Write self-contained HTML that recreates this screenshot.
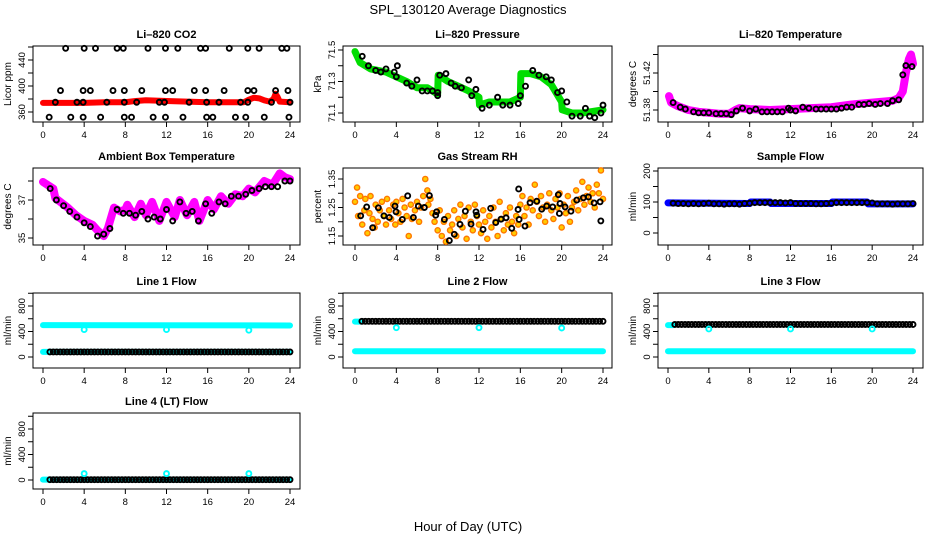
<!DOCTYPE html>
<html><head><meta charset="utf-8"><style>
body{margin:0;background:#fff}
svg{display:block;font-family:"Liberation Sans",sans-serif}
</style></head><body>
<svg id="c" width="936" height="540" viewBox="0 0 936 540">
<text x="468" y="14" text-anchor="middle" font-size="13">SPL_130120  Average Diagnostics</text>
<text x="468" y="531" text-anchor="middle" font-size="13">Hour of Day (UTC)</text>
</svg>
<script>
// ---- data ----
const xTicks=[0,4,8,12,16,20,24];
const co2BandHours=[0,2,4,6,8,9,10,12,14,16,18,19.5,20,20.5,21,21.5,22,22.4,22.6,22.8,23,24];
const co2BandVals=[374,374,374,375,375,377,378,377,376,375,375,375,379,382,381,378,376,380,388,383,376,375];
const co2Hours=[2.2,4.0,5.1,7.2,7.8,10.2,11.9,13.1,15.3,15.8,18.1,19.9,21.0,23.2,23.7,1.7,3.9,4.6,6.8,7.9,9.6,11.9,12.6,14.7,15.8,17.6,19.9,20.5,22.6,23.8,0.6,2.7,3.9,5.6,7.9,8.6,10.7,11.9,13.6,15.9,16.5,18.7,19.7,21.5,23.9,1.2,3.3,3.9,6.2,7.9,9.1,11.3,11.8,14.2,15.9,17.1,19.2,19.9,22.2,24.0];
const co2Vals=[458,458,458,458,458,458,458,458,458,458,458,458,458,458,458,393,393,393,393,393,393,393,393,393,393,393,393,393,393,393,352,352,352,352,352,352,352,352,352,352,352,352,352,352,352,375,375,375,375,375,375,375,375,375,375,375,375,375,375,375];
const presBandHours=[0,0.5,1.5,3,4,5,6,7,8,8.05,9,10,11,12,12.05,13,14,15,16,16.05,17,18,19,20,20.05,21,22,23,24];
const presBandVals=[71.49,71.42,71.38,71.36,71.33,71.3,71.26,71.26,71.22,71.34,71.3,71.27,71.24,71.2,71.15,71.17,71.17,71.17,71.2,71.35,71.35,71.33,71.28,71.17,71.12,71.1,71.1,71.11,71.12];
const presHours=[0.7,1.3,2,2.5,3,3.8,4,4.1,5,5.5,6,6.5,7,7.5,8,8,8.2,8.8,9.3,9.7,10.3,11,11.3,11.7,12.3,13,13.8,14.3,15,15.8,16,16.5,17.2,17.8,18.5,19,19.6,20,20.5,21,21.8,22.3,22.7,23.2,23.8,24];
const presVals=[71.46,71.4,71.37,71.36,71.38,71.36,71.33,71.4,71.29,71.27,71.31,71.24,71.24,71.24,71.21,71.23,71.34,71.35,71.29,71.27,71.26,71.31,71.21,71.25,71.13,71.15,71.2,71.15,71.15,71.16,71.21,71.27,71.37,71.34,71.33,71.31,71.23,71.24,71.17,71.08,71.08,71.13,71.08,71.07,71.1,71.15];
const tempBandHours=[0.1,0.3,1,2,3,4,5,6,6.6,7,8,10,12,14,16,18,20,22,22.6,23,23.3,23.6,23.8,24];
const tempBandVals=[51.395,51.388,51.384,51.38,51.378,51.377,51.376,51.376,51.38,51.382,51.381,51.38,51.381,51.382,51.383,51.386,51.388,51.39,51.393,51.4,51.42,51.435,51.44,51.43];
const tempHours=[0.5,1.2,1.7,2.5,3,3.5,4,4.7,5.2,5.7,6.2,6.7,7.3,8,8.6,9.2,9.7,10.2,10.7,11.2,11.8,12,12.5,13.2,13.8,14.5,15,15.5,16,16.5,17,17.5,18,18.7,19.2,19.7,20.3,20.8,21.5,22,22.6,23,23.3,23.9];
const tempVals=[51.388,51.383,51.381,51.378,51.377,51.377,51.377,51.376,51.376,51.376,51.375,51.379,51.382,51.379,51.381,51.378,51.378,51.378,51.378,51.378,51.382,51.38,51.379,51.383,51.382,51.381,51.381,51.381,51.381,51.381,51.382,51.383,51.383,51.386,51.386,51.387,51.386,51.387,51.387,51.39,51.391,51.418,51.428,51.427];
const ambBandHours=[0,1,1.2,2.4,3.2,4,4.8,5.3,5.9,6.3,6.9,7.5,8,8.2,8.9,9.5,10,10.6,11.3,12,12.8,13.3,14,14.7,15.2,16,16.6,17.3,18,18.7,19.4,20,20.6,21.5,22.3,23,23.5,24];
const ambBandVals=[37.95,37.6,37.1,36.6,36.2,35.9,35.7,35.4,35.1,35.5,36.6,36.4,36.5,36.75,36.1,36.8,36.2,36.9,35.9,36.9,36.1,37.0,36.2,36.9,35.9,37.0,36.5,37.2,36.8,37.3,37.2,37.6,37.4,38.0,37.8,38.4,38.2,38.1];
const ambHours=[0.7,1.3,2,2.6,3.3,4,4.6,5.3,5.9,6.5,7.2,7.8,8.4,9.0,9.6,10.2,10.8,11.4,12,12.6,13.3,13.9,14.5,15.1,15.8,16.4,17.1,17.7,18.3,19,19.7,20.3,21,21.6,22.2,22.8,23.5,24];
const ambVals=[37.6,37.0,36.7,36.4,36.1,35.8,35.6,35.1,35.2,35.5,36.5,36.3,36.3,36.2,36.4,36.0,36.1,36.0,36.5,35.9,36.9,36.3,36.4,35.9,36.8,36.3,36.9,36.8,37.2,37.2,37.3,37.5,37.6,37.7,37.7,37.7,38.0,38.0];
const rhOrangeHours=[0,0.2,0.3,0.5,0.7,0.9,1,1.2,1.4,1.5,1.7,1.9,2,2.2,2.4,2.6,2.8,3,3.1,3.3,3.5,3.7,3.9,4,4.2,4.4,4.6,4.8,5,5.2,5.4,5.5,5.8,6,6.2,6.4,6.6,6.8,7,7.1,7.3,7.5,7.7,8,8.2,8.4,8.6,8.8,9,9.2,9.4,9.6,9.8,10,10.2,10.4,10.6,10.8,11,11.2,11.4,11.6,11.8,12,12.2,12.4,12.6,12.8,13,13.2,13.4,13.6,13.8,14,14.2,14.4,14.6,14.8,15,15.2,15.4,15.6,15.8,16,16.2,16.4,16.6,16.8,17,17.2,17.4,17.6,17.8,18,18.2,18.4,18.6,18.8,19,19.2,19.4,19.6,19.8,20,20.2,20.4,20.6,20.8,21,21.2,21.4,21.6,21.8,22,22.2,22.4,22.6,22.8,23,23.2,23.4,23.6,23.8,24];
const rhOrangeVals=[1.27,1.32,1.22,1.29,1.19,1.24,1.28,1.16,1.23,1.29,1.21,1.18,1.26,1.2,1.24,1.27,1.22,1.19,1.28,1.24,1.21,1.26,1.19,1.27,1.23,1.2,1.28,1.25,1.22,1.15,1.26,1.21,1.24,1.27,1.2,1.25,1.29,1.35,1.31,1.26,1.28,1.23,1.2,1.17,1.24,1.15,1.2,1.13,1.22,1.17,1.19,1.24,1.15,1.21,1.26,1.18,1.22,1.14,1.25,1.2,1.17,1.26,1.22,1.19,1.16,1.24,1.2,1.14,1.22,1.18,1.25,1.2,1.15,1.27,1.21,1.17,1.23,1.19,1.25,1.2,1.16,1.22,1.19,1.26,1.29,1.22,1.25,1.19,1.28,1.24,1.33,1.27,1.22,1.29,1.25,1.2,1.26,1.3,1.24,1.21,1.28,1.25,1.3,1.18,1.26,1.23,1.29,1.2,1.25,1.27,1.31,1.24,1.28,1.34,1.26,1.29,1.32,1.27,1.3,1.25,1.33,1.3,1.38,1.28,1.32,1.26];
const rhHours=[0.55,1.13,1.71,2.26,2.8,3.32,3.87,3.97,4.58,5.1,5.65,6.13,6.71,7.2,7.81,7.9,8.65,9.13,9.61,10.16,10.68,11.23,11.71,11.78,12.39,13.13,13.62,14.13,14.62,15.17,15.78,15.84,15.88,16.45,16.94,17.59,18.07,18.55,19.13,19.68,19.78,19.84,20.33,20.9,21.46,22.1,22.59,23.14,23.72,23.79];
const rhVals=[1.221,1.252,1.179,1.249,1.221,1.215,1.255,1.235,1.208,1.291,1.215,1.255,1.25,1.292,1.223,1.235,1.208,1.134,1.156,1.191,1.237,1.192,1.235,1.223,1.173,1.247,1.197,1.209,1.214,1.177,1.243,1.315,1.208,1.185,1.267,1.272,1.244,1.255,1.252,1.295,1.229,1.264,1.252,1.237,1.276,1.284,1.287,1.266,1.27,1.203];
const sampleBandHours=[0,8,8.1,10,10.1,16,16.1,19.5,19.6,24];
const sampleBandVals=[97,95,100,100,95,95,100,100,94,94];
const flowHours=[0.5,1,1.5,2,2.5,3,3.5,4,4.5,5,5.5,6,6.5,7,7.5,8,8.5,9,9.5,10,10.5,11,11.5,12,12.5,13,13.5,14,14.5,15,15.5,16,16.5,17,17.5,18,18.5,19,19.5,20,20.5,21,21.5,22,22.5,23,23.5,24];
const flowHoursDense=[0.67,1,1.33,1.67,2,2.33,2.67,3,3.33,3.67,4,4.33,4.67,5,5.33,5.67,6,6.33,6.67,7,7.33,7.67,8,8.33,8.67,9,9.33,9.67,10,10.33,10.67,11,11.33,11.67,12,12.33,12.67,13,13.33,13.67,14,14.33,14.67,15,15.33,15.67,16,16.33,16.67,17,17.33,17.67,18,18.33,18.67,19,19.33,19.67,20,20.33,20.67,21,21.33,21.67,22,22.33,22.67,23,23.33,23.67,24];
const sampleBlack=[96,95,95,94,95,94,95,96,94,94,93,94,94,93,95,96,98,98,98,98,98,98,97,98,95,95,95,95,94,94,95,96,98,98,98,98,98,98,98,97,94,94,94,93,94,94,94,95];
const bandEnds=[0,24];
const line1High=[500,495], line1Low=[80,80], line1Black=80;
const line2High=[555,555], line2Low=[90,90], line2Black=560;
const line3High=[500,500], line3Low=[90,90], line3Black=510;
const line4Low=[5,5], line4Black=5;
const dipHours=[4,12,20];
const line1Dips=[430,430,420], line2Dips=[460,460,455], line3Dips=[440,440,440], line4Dips=[100,100,100];

// ---- layout ----
const svg=document.getElementById('c');
const NS='http://www.w3.org/2000/svg';
const cols=[{L:33,R:300,x0:43,x24:290},{L:343,R:612,x0:355,x24:603},{L:658,R:923,x0:668,x24:913}];
const rows=[{T:46,B:122},{T:168,B:245},{T:293,B:368},{T:413,B:489}];
function mk(tag,attrs,parent){const e=document.createElementNS(NS,tag);for(const k in attrs)e.setAttribute(k,attrs[k]);(parent||svg).appendChild(e);return e;}

function panel(name,r,c,title,ylab,v1,p1,v2,p2,yTicks,yLabels){
  const R=rows[r],C=cols[c];
  const g=mk('g',{});
  
  
  const xs=h=>C.x0+(C.x24-C.x0)*h/24;
  const ys=v=>p1+(v-v1)*(p2-p1)/(v2-v1);
  const box=mk('rect',{x:C.L,y:R.T,width:C.R-C.L,height:R.B-R.T,fill:'none',stroke:'#000','stroke-width':1},g);
  
  
  const t=mk('text',{x:(C.L+C.R)/2,y:R.T-8,'text-anchor':'middle','font-size':11,'font-weight':'bold'},g);
  t.textContent=title;
  
  
  const yl=mk('text',{transform:`translate(${C.L-22},${(R.T+R.B)/2}) rotate(-90)`,'text-anchor':'middle','font-size':10},g);
  yl.textContent=ylab;
  
  
  const ax=mk('g',{stroke:'#000','stroke-width':1},g);
  
  
  xTicks.forEach(h=>{
    mk('line',{x1:xs(h),x2:xs(h),y1:R.B,y2:R.B+5},ax);
    const tl=mk('text',{x:xs(h),y:R.B+16,'text-anchor':'middle','font-size':9.5,stroke:'none'},ax);
    tl.textContent=h;
  });
  const ay=mk('g',{stroke:'#000','stroke-width':1},g);
  
  
  yTicks.forEach(v=>{mk('line',{x1:C.L-5,x2:C.L,y1:ys(v),y2:ys(v)},ay);});
  yLabels.forEach(v=>{
    const tl=mk('text',{transform:`translate(${C.L-8},${ys(v)}) rotate(-90)`,'text-anchor':'middle','font-size':9.5,stroke:'none'},ay);
    tl.textContent=v;
  });
  const clip=mk('g',{},g);
  return {g:clip,xs,ys};
}
function band(P,name,hs,vs,color,w){
  const pts=hs.map((h,i)=>P.xs(h)+','+P.ys(vs[i])).join(' ');
  const pl=mk('polyline',{points:pts,fill:'none',stroke:color,'stroke-width':w||7,'stroke-linejoin':'round','stroke-linecap':'round'},P.g);
  
  
}
function dots(P,name,hs,vs,stroke,fill,r,sw){
  const g=mk('g',{},P.g);
  
  
  const n=Math.min(hs.length,vs.length);
  for(let i=0;i<n;i++){
    mk('circle',{cx:P.xs(hs[i]),cy:P.ys(vs[i]),r:r||2.5,fill:fill||'none',stroke:stroke,'stroke-width':sw||1.9},g);
  }
}
function dotsConst(P,name,hs,v,stroke,r,sw){
  const g=mk('g',{},P.g);
  
  
  hs.forEach(h=>mk('circle',{cx:P.xs(h),cy:P.ys(v),r:r||2.5,fill:'none',stroke:stroke,'stroke-width':sw||1.9},g));
}

// panel 1
let P=panel('co2',0,0,'Li–820 CO2','Licor ppm',360,112,440,60,[360,380,400,420,440,460],[360,400,440]);
band(P,'co2-red-band',co2BandHours,co2BandVals,'#ff0000',6);
dots(P,'co2-black-points',co2Hours,co2Vals,'#000');
// panel 2
P=panel('pressure',0,1,'Li–820 Pressure','kPa',71.1,113,71.5,50,[71.1,71.2,71.3,71.4,71.5],[71.1,71.3,71.5]);
band(P,'pressure-green-band',presBandHours,presBandVals,'#00dd00',7);
dots(P,'pressure-black-points',presHours,presVals,'#000');
// panel 3
P=panel('temperature',0,2,'Li–820 Temperature','degrees C',51.38,110,51.42,73,[51.38,51.40,51.42,51.44],[51.38,51.42]);
band(P,'temperature-magenta-band',tempBandHours,tempBandVals,'#ff00ff',8);
dots(P,'temperature-black-points',tempHours,tempVals,'#000');
// panel 4
P=panel('ambient',1,0,'Ambient Box Temperature','degrees C',35,238,37,200,[35,36,37,38],[35,37]);
band(P,'ambient-magenta-band',ambBandHours,ambBandVals,'#ff00ff',8);
dots(P,'ambient-black-points',ambHours,ambVals,'#000');
// panel 5
P=panel('rh',1,1,'Gas Stream RH','percent',1.15,236,1.35,179,[1.15,1.20,1.25,1.30,1.35],[1.15,1.25,1.35]);
dots(P,'rh-orange-points',rhOrangeHours,rhOrangeVals,'#ff7700','#ffcc00',2.6,1.4);
dots(P,'rh-black-points',rhHours,rhVals,'#000');
// panel 6
P=panel('sample-flow',1,2,'Sample Flow','ml/min',0,233,200,171,[0,50,100,150,200],[0,100,200]);
band(P,'sample-blue-band',sampleBandHours,sampleBandVals,'#0000ff',7);
dots(P,'sample-black-points',flowHours,sampleBlack,'#000');
// line flows
const fT=[0,200,400,600,800,1000], fL=[0,400,800];
P=panel('line1-flow',2,0,'Line 1 Flow','ml/min',0,357,800,306,fT,fL);
band(P,'line1-cyan-high',bandEnds,line1High,'#00ffff',6);
band(P,'line1-cyan-low',bandEnds,line1Low,'#00ffff',6);
dotsConst(P,'line1-black-points',flowHoursDense,line1Black,'#000');
dots(P,'line1-dips',dipHours,line1Dips,'#00ffff');
P=panel('line2-flow',2,1,'Line 2 Flow','ml/min',0,357,800,306,fT,fL);
band(P,'line2-cyan-low',bandEnds,line2Low,'#00ffff',6);
band(P,'line2-cyan-start',[0,0.6],line2High,'#00ffff',6);
dotsConst(P,'line2-black-points',flowHoursDense,line2Black,'#000');
dots(P,'line2-dips',dipHours,line2Dips,'#00ffff');
P=panel('line3-flow',2,2,'Line 3 Flow','ml/min',0,357,800,306,fT,fL);
band(P,'line3-cyan-low',bandEnds,line3Low,'#00ffff',6);
band(P,'line3-cyan-start',[0,0.5],line3High,'#00ffff',6);
dotsConst(P,'line3-black-points',flowHoursDense,line3Black,'#000');
dots(P,'line3-dips',dipHours,line3Dips,'#00ffff');
P=panel('line4-flow',3,0,'Line 4 (LT) Flow','ml/min',0,480,800,429,fT,fL);
band(P,'line4-cyan-low',bandEnds,line4Low,'#00ffff',6);
dotsConst(P,'line4-black-points',flowHoursDense,line4Black,'#000');
dots(P,'line4-spikes',dipHours,line4Dips,'#00ffff');
</script>
</body></html>
